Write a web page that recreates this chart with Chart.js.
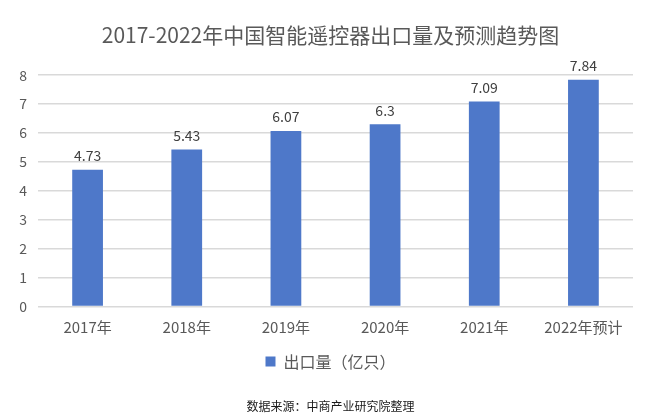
<!DOCTYPE html>
<html>
<head>
<meta charset="utf-8">
<script src="https://cdn.jsdelivr.net/npm/chart.js@4/dist/chart.umd.min.js"></script>
<style>
  html, body { margin: 0; padding: 0; background: #fff; }
  #wrap { width: 663px; height: 420px; }
</style>
</head>
<body>
<div id="wrap"><canvas id="exportChart" width="663" height="420"></canvas></div>
<script>
// chart data
const years = ['2017年', '2018年', '2019年', '2020年', '2021年', '2022年预计'];
const exportVolume = [4.73, 5.43, 6.07, 6.3, 7.09, 7.84];
const yTicks = [0, 1, 2, 3, 4, 5, 6, 7, 8];

const FONT = "'Noto Sans CJK SC', 'Noto Sans', sans-serif";
const BAR_COLOR = '#4E78C9';

// value labels above bars
const valueLabels = {
    id: 'valueLabels',
    afterDatasetsDraw(chart) {
        const ctx = chart.ctx;
        const meta = chart.getDatasetMeta(0);
        ctx.save();
        ctx.font = '14px ' + FONT;
        ctx.fillStyle = '#404040';
        ctx.textAlign = 'center';
        ctx.textBaseline = 'bottom';
        meta.data.forEach(function(bar, i) {
            ctx.fillText(String(exportVolume[i]), bar.x, bar.y - 7);
        });
        ctx.restore();
    }
};

const ctx = document.getElementById('exportChart').getContext('2d');
new Chart(ctx, {
    type: 'bar',
    data: {
        labels: years,
        datasets: [{
            label: '出口量（亿只）',
            data: exportVolume,
            backgroundColor: BAR_COLOR,
            borderWidth: 0,
            barPercentage: 0.31,
            categoryPercentage: 1.0
        }]
    },
    options: {
        responsive: false,
        animation: false,
        layout: {
            padding: { left: 10, right: 12, top: 22, bottom: 6 }
        },
        plugins: {
            title: {
                display: true,
                text: '2017-2022年中国智能遥控器出口量及预测趋势图',
                color: '#595959',
                font: { family: FONT, size: 21, weight: 'normal' },
                padding: { top: 0, bottom: 28 }
            },
            subtitle: {
                display: true,
                position: 'bottom',
                text: '数据来源：中商产业研究院整理',
                color: '#1a1a1a',
                font: { family: FONT, size: 12 },
                padding: { top: 20, bottom: 0 }
            },
            legend: {
                position: 'bottom',
                labels: {
                    color: '#595959',
                    font: { family: FONT, size: 16 },
                    boxWidth: 10,
                    boxHeight: 10,
                    padding: 13
                }
            },
            tooltip: { enabled: false }
        },
        scales: {
            x: {
                grid: { display: false },
                border: { display: false },
                ticks: {
                    color: '#595959',
                    font: { family: FONT, size: 15 },
                    padding: 4
                }
            },
            y: {
                min: 0,
                max: 8,
                afterBuildTicks: function(axis) {
                    axis.ticks = yTicks.map(function(v) { return { value: v }; });
                },
                afterFit: function(axis) { axis.width = 28; },
                grid: { color: '#D9D9D9', lineWidth: 1.5, drawTicks: false },
                border: { display: false },
                ticks: {
                    color: '#595959',
                    font: { family: FONT, size: 14 },
                    padding: 11
                }
            },
            // empty right-hand spacer so the title stays centred on the page
            spacer: {
                type: 'linear',
                position: 'right',
                afterFit: function(axis) { axis.width = 18; },
                grid: { display: false },
                border: { display: false },
                ticks: { display: false }
            }
        }
    },
    plugins: [valueLabels]
});
</script>
</body>
</html>
